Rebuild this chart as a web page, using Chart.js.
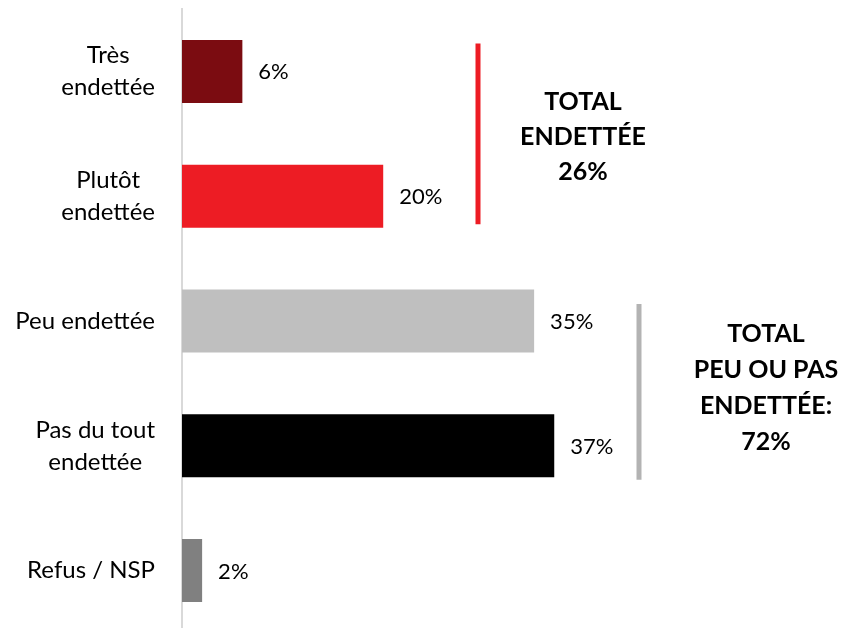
<!DOCTYPE html>
<html>
<head>
<meta charset="utf-8">
<script src="https://cdn.jsdelivr.net/npm/chart.js@4/dist/chart.umd.min.js"></script>
<style>
  html, body { margin: 0; padding: 0; background: #ffffff; overflow: hidden; }
  #wrap { position: relative; width: 846px; height: 633px; }
</style>
</head>
<body>
<div id="wrap"><canvas id="c"></canvas></div>
<script>
// ---- data ----
const categories = [
  ['Très', 'endettée'],
  ['Plutôt', 'endettée'],
  ['Peu endettée'],
  ['Pas du tout', 'endettée'],
  ['Refus / NSP']
];
const values = [6, 20, 35, 37, 2];
const barColors = ['#7b0c11', '#ed1c24', '#bfbfbf', '#000000', '#808080'];
const totalEndettee = ['TOTAL', 'ENDETTÉE', '26%'];
const totalPeuPas = ['TOTAL', 'PEU OU PAS', 'ENDETTÉE:', '72%'];

const FONT = 'Lato';

const drawPlugin = {
  id: 'customDraw',
  afterDatasetsDraw(chart) {
    const ctx = chart.ctx;
    const ys = chart.scales.y;
    const meta = chart.getDatasetMeta(0);
    ctx.save();
    // category labels (block right-aligned, lines centered within block)
    ctx.font = '400 24px ' + FONT;
    ctx.fillStyle = '#000000';
    ctx.textBaseline = 'middle';
    ctx.textAlign = 'center';
    const right = 155, lh = 32;
    categories.forEach((lines, i) => {
      const y = ys.getPixelForValue(i);
      const w = Math.max(...lines.map(l => ctx.measureText(l).width));
      const cx = right - w / 2;
      const y0 = y - (lines.length - 1) * lh / 2;
      lines.forEach((l, k) => ctx.fillText(l, cx, y0 + k * lh));
    });
    // value labels
    ctx.font = '400 22px ' + FONT;
    ctx.textAlign = 'left';
    meta.data.forEach((bar, i) => {
      ctx.fillText(values[i] + '%', bar.x + 16, bar.y + 1);
    });
    // bracket lines
    ctx.lineWidth = 5;
    ctx.strokeStyle = '#ed1c24';
    ctx.beginPath();
    ctx.moveTo(478, ys.getPixelForValue(0) - 28);
    ctx.lineTo(478, ys.getPixelForValue(1) + 28);
    ctx.stroke();
    ctx.strokeStyle = '#b3b3b3';
    ctx.beginPath();
    ctx.moveTo(639, ys.getPixelForValue(2) - 17);
    ctx.lineTo(639, ys.getPixelForValue(3) + 34);
    ctx.stroke();
    // totals
    ctx.font = '700 25px ' + FONT;
    ctx.textAlign = 'center';
    const tl = 35.3;
    const c1 = (ys.getPixelForValue(0) + ys.getPixelForValue(1)) / 2 + 3;
    totalEndettee.forEach((t, k) => ctx.fillText(t, 583, c1 - tl + k * tl));
    const c2 = (ys.getPixelForValue(2) + ys.getPixelForValue(3)) / 2 + 5;
    totalPeuPas.forEach((t, k) => ctx.fillText(t, 766, c2 - 1.5 * 36 + k * 36));
    ctx.restore();
  }
};

new Chart(document.getElementById('c'), {
  type: 'bar',
  data: {
    labels: categories,
    datasets: [{
      data: values,
      backgroundColor: barColors,
      borderWidth: 0,
      categoryPercentage: 1,
      barPercentage: 0.505
    }]
  },
  options: {
    indexAxis: 'y',
    responsive: true,
    maintainAspectRatio: false,
    animation: false,
    layout: { padding: { top: 9, right: 0, bottom: 0, left: 0 } },
    plugins: { legend: { display: false }, tooltip: { enabled: false } },
    scales: {
      x: { display: false, min: 0, max: 66 },
      y: {
        display: true,
        grid: { display: false, drawTicks: false },
        ticks: { display: false },
        border: { display: true, color: '#d9d9d9', width: 2 },
        afterFit(scale) { scale.width = 182; }
      }
    }
  },
  plugins: [drawPlugin]
});
</script>
</body>
</html>
